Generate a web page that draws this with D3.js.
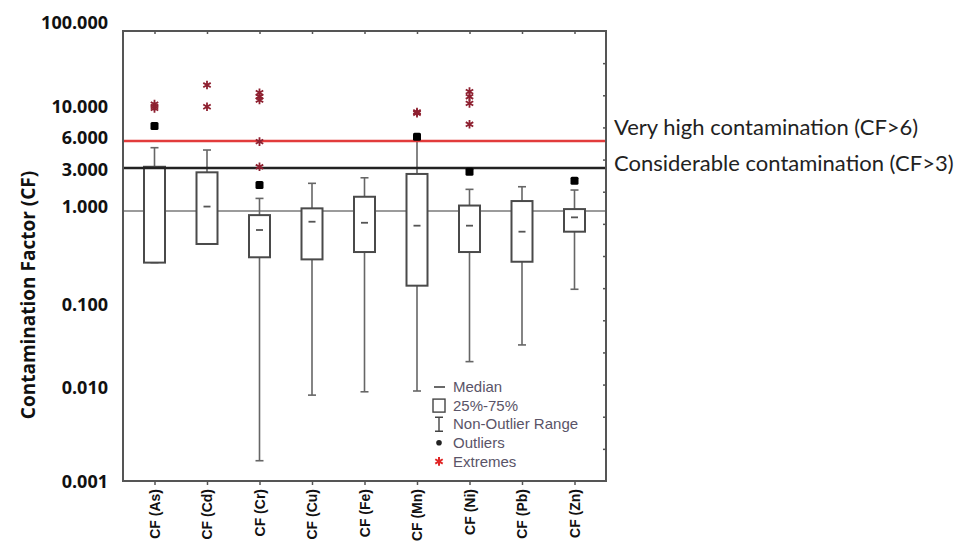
<!DOCTYPE html>
<html>
<head>
<meta charset="utf-8">
<script src="https://cdn.jsdelivr.net/npm/d3@7"></script>
<style>
    body { margin: 0; background: #fff; }
    svg { display: block; }
</style>
</head>
<body>
<div id="chart"></div>
<script>
// values
const categories = ["CF (As)", "CF (Cd)", "CF (Cr)", "CF (Cu)", "CF (Fe)", "CF (Mn)", "CF (Ni)", "CF (Pb)", "CF (Zn)"];
const q1       = [0.267, 0.43, 0.306, 0.29, 0.35, 0.148, 0.35, 0.273, 0.589];
const median   = [3.05, 1.12, 0.615, 0.76, 0.74, 0.687, 0.687, 0.589, 0.85];
const q3       = [3.1, 2.69, 0.90, 1.07, 1.44, 2.58, 1.15, 1.29, 1.05];
const whiskLow = [0.267, 0.43, 0.00168, 0.0090, 0.0098, 0.0100, 0.0212, 0.0325, 0.135];
const whiskHigh = [5.05, 4.76, 1.38, 2.03, 2.34, 6.3, 1.74, 1.86, 1.71];
// [category index, value]
const outliers = [[0, 8.8], [2, 1.94], [5, 6.7], [6, 2.73], [8, 2.17]];
const extremes = [[0, 15.4], [0, 14.5], [0, 13.8], [1, 25.1], [1, 14.4],
    [2, 20.6], [2, 18.6], [2, 17.1], [2, 5.9], [2, 3.1],
    [5, 12.6], [5, 12.2], [6, 21.2], [6, 18.6], [6, 15.7], [6, 9.2]];
const yTicks = [0.001, 0.01, 0.1, 1, 3, 6, 10, 100];
const thresholds = [
    { value: 6, label: "Very high contamination (CF>6)", color: "#e23b3b" },
    { value: 3, label: "Considerable contamination (CF>3)", color: "#222" }
];
const legendItems = ["Median", "25%-75%", "Non-Outlier Range", "Outliers", "Extremes"];

const width = 957, height = 547;
const frame = { left: 123, right: 606, top: 31, bottom: 481 };

// the pasted labels in the original sit a bit off their ticks
const labelShift = { 100: -8, 10: -14, 6: -3, 3: 2, 1: -4, 0.1: 4, 0.01: -3, 0.001: 1 };

const svg = d3.select("#chart").append("svg")
    .attr("width", width)
    .attr("height", height);

const x = d3.scalePoint()
    .domain(categories)
    .range([frame.left, frame.right])
    .padding(0.6);

const y = d3.scaleLog()
    .domain([0.001, 100])
    .range([frame.bottom, frame.top]);

// the statistica axis had 14 even steps, only the marks are kept
const yInner = d3.scaleLinear().domain([0, 14]).range([frame.bottom, frame.top]);

const boxW = 21;

// reference line at 1
svg.append("line")
    .attr("x1", frame.left).attr("x2", frame.right)
    .attr("y1", y(1)).attr("y2", y(1))
    .attr("stroke", "#7a7a7a").attr("stroke-width", 1.6);

// whiskers
const g = svg.append("g");
categories.forEach((c, i) => {
    const cx = x(c);
    g.append("line")
        .attr("x1", cx).attr("x2", cx)
        .attr("y1", y(whiskLow[i])).attr("y2", y(whiskHigh[i]))
        .attr("stroke", "#666").attr("stroke-width", 1.6);
    [whiskLow[i], whiskHigh[i]].forEach(v => {
        g.append("line")
            .attr("x1", cx - 4).attr("x2", cx + 4)
            .attr("y1", y(v)).attr("y2", y(v))
            .attr("stroke", "#666").attr("stroke-width", 1.6);
    });
});

// boxes
g.selectAll("rect.box")
    .data(categories)
    .enter().append("rect")
    .attr("class", "box")
    .attr("x", d => x(d) - boxW / 2)
    .attr("width", boxW)
    .attr("y", (d, i) => y(q3[i]))
    .attr("height", (d, i) => y(q1[i]) - y(q3[i]))
    .attr("fill", "#fff")
    .attr("stroke", "#4a4a4a")
    .attr("stroke-width", 2);

g.selectAll("line.median")
    .data(categories)
    .enter().append("line")
    .attr("class", "median")
    .attr("x1", d => x(d) - 3.5).attr("x2", d => x(d) + 3.5)
    .attr("y1", (d, i) => y(median[i])).attr("y2", (d, i) => y(median[i]))
    .attr("stroke", "#555").attr("stroke-width", 1.8);

// threshold lines
const labelOffset = [-14, -5];
thresholds.forEach((t, i) => {
    svg.append("line")
        .attr("x1", frame.left).attr("x2", frame.right)
        .attr("y1", y(t.value)).attr("y2", y(t.value))
        .attr("stroke", t.color).attr("stroke-width", 2.4);
    svg.append("text")
        .attr("x", frame.right + 8)
        .attr("y", y(t.value) + labelOffset[i])
        .attr("dy", "0.35em")
        .attr("font-family", "Lato, 'Open Sans', sans-serif")
        .attr("font-size", 22)
        .attr("fill", "#222")
        .text(t.label);
});

// outliers and extremes
svg.selectAll("rect.outlier")
    .data(outliers)
    .enter().append("rect")
    .attr("class", "outlier")
    .attr("x", d => x(categories[d[0]]) - 4)
    .attr("y", d => y(d[1]) - 4)
    .attr("width", 8).attr("height", 8)
    .attr("rx", 1.5)
    .attr("fill", "#000");

const star = d3.symbol().type(d3.symbolAsterisk).size(52);
svg.selectAll("path.extreme")
    .data(extremes)
    .enter().append("path")
    .attr("class", "extreme")
    .attr("d", star)
    .attr("transform", d => "translate(" + x(categories[d[0]]) + "," + y(d[1]) + ")")
    .attr("fill", "none")
    .attr("stroke", "#8e2030")
    .attr("stroke-width", 1.8);

// frame
svg.append("rect")
    .attr("x", frame.left).attr("y", frame.top)
    .attr("width", frame.right - frame.left)
    .attr("height", frame.bottom - frame.top)
    .attr("fill", "none")
    .attr("stroke", "#555")
    .attr("stroke-width", 2);

// small marks on the frame
svg.append("g")
    .attr("transform", "translate(0," + frame.top + ")")
    .call(d3.axisBottom(x).tickSize(3).tickFormat(""))
    .call(a => a.select(".domain").remove())
    .selectAll("line").attr("stroke", "#555").attr("stroke-width", 1.5);

svg.append("g")
    .attr("transform", "translate(" + frame.right + ",0)")
    .call(d3.axisLeft(yInner).tickValues(d3.range(1, 14)).tickSize(3).tickFormat(""))
    .call(a => a.select(".domain").remove())
    .selectAll("line").attr("stroke", "#555").attr("stroke-width", 1.5);

// x axis
const xAxis = svg.append("g")
    .attr("transform", "translate(0," + frame.bottom + ")")
    .call(d3.axisBottom(x).tickSize(4).tickPadding(0));
xAxis.select(".domain").remove();
xAxis.selectAll("line").attr("stroke", "#555").attr("stroke-width", 1.5);
xAxis.selectAll("text")
    .attr("transform", "rotate(-90)")
    .attr("x", -8)
    .attr("y", 0)
    .attr("dy", "0.35em")
    .attr("text-anchor", "end")
    .attr("font-family", "'Liberation Sans', Arial, sans-serif")
    .attr("font-weight", "bold")
    .attr("font-size", 14)
    .attr("fill", "#111");

// y axis
const yAxis = svg.append("g")
    .attr("transform", "translate(" + frame.left + ",0)")
    .call(d3.axisLeft(y).tickValues(yTicks).tickFormat(d3.format(".3f")).tickSize(0).tickPadding(15));
yAxis.select(".domain").remove();
yAxis.selectAll("text")
    .attr("y", d => labelShift[d] || 0)
    .attr("font-family", "'Open Sans', sans-serif")
    .attr("font-weight", "bold")
    .attr("font-size", 18)
    .attr("fill", "#111");

svg.append("text")
    .attr("transform", "translate(28," + 295 + ") rotate(-90)")
    .attr("text-anchor", "middle")
    .attr("dy", "0.35em")
    .attr("font-family", "'Open Sans', sans-serif")
    .attr("font-weight", "bold")
    .attr("font-size", 19)
    .attr("fill", "#111")
    .text("Contamination Factor (CF)");

// legend
const legend = svg.append("g").attr("transform", "translate(439,387)");
const rowH = 18.6;
legend.selectAll("text")
    .data(legendItems)
    .enter().append("text")
    .attr("x", 14)
    .attr("y", (d, i) => i * rowH)
    .attr("dy", "0.35em")
    .attr("font-family", "'Liberation Sans', Arial, sans-serif")
    .attr("font-size", 15)
    .attr("fill", "#5a5468")
    .text(d => d);

legend.append("line")
    .attr("x1", -5).attr("x2", 6).attr("y1", 0).attr("y2", 0)
    .attr("stroke", "#444").attr("stroke-width", 1.6);
legend.append("rect")
    .attr("x", -6).attr("y", rowH - 6.5).attr("width", 12).attr("height", 13)
    .attr("fill", "#fff").attr("stroke", "#444").attr("stroke-width", 1.4);
legend.append("path")
    .attr("d", "M-4," + (2 * rowH - 7) + "H4M0," + (2 * rowH - 7) + "V" + (2 * rowH + 7) + "M-4," + (2 * rowH + 7) + "H4")
    .attr("fill", "none").attr("stroke", "#444").attr("stroke-width", 1.4);
legend.append("circle")
    .attr("cx", 0).attr("cy", 3 * rowH).attr("r", 2.8)
    .attr("fill", "#222");
legend.append("path")
    .attr("d", star)
    .attr("transform", "translate(0," + 4 * rowH + ")")
    .attr("fill", "none").attr("stroke", "#e02525").attr("stroke-width", 2);
</script>
</body>
</html>
